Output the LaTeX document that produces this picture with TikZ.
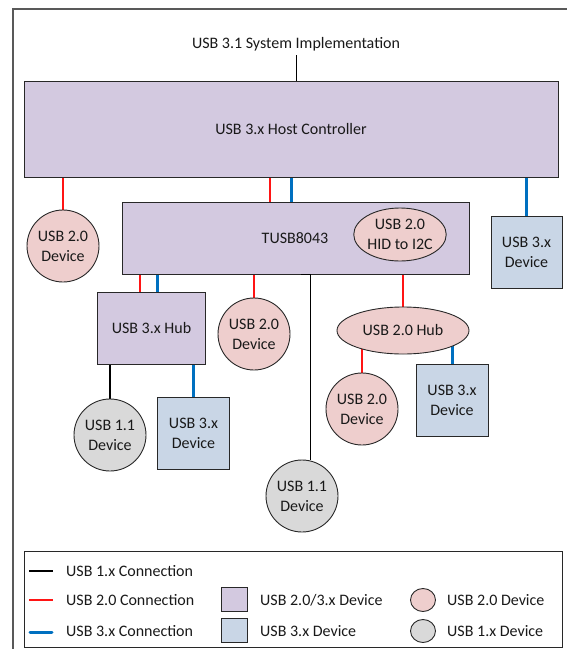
\documentclass[tikz,border=0pt]{standalone}
\usepackage{fontspec}
\setmainfont{Carlito}
\usetikzlibrary{shapes.geometric,backgrounds,calc}
\definecolor{purp}{RGB}{211,201,224}
\definecolor{pinkc}{RGB}{238,206,205}
\definecolor{bluebox}{RGB}{201,214,230}
\definecolor{grayc}{RGB}{217,217,217}
\definecolor{usbblue}{RGB}{0,112,192}
\definecolor{usbred}{RGB}{255,20,20}
\definecolor{edge}{RGB}{40,40,40}
\tikzset{
  every node/.style={font=\fontsize{16}{20}\selectfont, text=black!90, align=center, inner sep=0pt},
  purpbox/.style={draw=edge, line width=0.9pt, fill=purp, rectangle},
  bluedev/.style={draw=edge, line width=0.9pt, fill=bluebox, rectangle, minimum width=72pt, minimum height=72pt},
  pinkdev/.style={draw=edge, line width=0.9pt, fill=pinkc, circle, minimum size=72pt},
  graydev/.style={draw=edge, line width=0.9pt, fill=grayc, circle, minimum size=72pt},
  pinkell/.style={draw=edge, line width=0.9pt, fill=pinkc, ellipse},
  usbone/.style={draw=black, line width=1.3pt},
  usbtwo/.style={draw=usbred, line width=1.2pt},
  usbthree/.style={draw=usbblue, line width=3pt},
  frameline/.style={draw=black!65, line width=1.2pt},
}
\begin{document}
\begin{tikzpicture}[x=1pt,y=-1pt]
\useasboundingbox (0,0) rectangle (567,649);
% outer frame (cropped at right and bottom)
\draw[frameline] (13,649) -- (13,9) -- (567,9);

% title
\node (title) at (296,44) {USB 3.1 System Implementation};

% main nodes
\node[purpbox, minimum width=534pt, minimum height=96pt] (host) at (291,129) {USB 3.x Host Controller};
\node[purpbox, minimum width=347pt, minimum height=72pt] (tusb) at (295.5,238) {};
\node at (295,238) {TUSB8043};
\node[pinkell, minimum width=86pt, minimum height=53pt] (hid) at (400,234.5) {USB 2.0\\HID to I2C};
\node[pinkdev] (c20a) at (63,246) {USB 2.0\\Device};
\node[bluedev, minimum width=71pt] (dev3a) at (526.5,252) {USB 3.x\\Device};
\node[purpbox, minimum width=108pt, minimum height=72pt] (hub3) at (151.5,328) {USB 3.x Hub};
\node[pinkdev] (c20b) at (254,334) {USB 2.0\\Device};
\node[pinkell, minimum width=132pt, minimum height=47pt] (hub2) at (403,330.5) {USB 2.0 Hub};
\node[pinkdev] (c20c) at (362,409) {USB 2.0\\Device};
\node[bluedev] (dev3b) at (452,400) {USB 3.x\\Device};
\node[graydev] (c11a) at (110,435) {USB 1.1\\Device};
\node[bluedev] (dev3c) at (193.5,433) {USB 3.x\\Device};
\node[graydev] (c11b) at (302,496) {USB 1.1\\Device};

% connectors (behind the nodes)
\begin{scope}[on background layer]
  \draw[black, line width=0.9pt] (title.south) ++(0,4) -- (title.south |- host.north);
  \draw[usbtwo] (c20a.center) -- (c20a.center |- host.center);
  \draw[usbtwo] ([xshift=-25.5pt]tusb.center) -- ([xshift=-25.5pt]tusb.center |- host.center);
  \draw[usbthree] ([xshift=-4pt]tusb.center) -- ([xshift=-4pt]tusb.center |- host.center);
  \draw[usbthree] (dev3a.center) -- (dev3a.center |- host.center);
  \draw[usbtwo] ([xshift=-11.5pt]hub3.center) -- ([xshift=-11.5pt]hub3.center |- tusb.center);
  \draw[usbthree] ([xshift=5.5pt]hub3.center) -- ([xshift=5.5pt]hub3.center |- tusb.center);
  \draw[usbtwo] (c20b.center) -- (c20b.center |- tusb.center);
  \draw[usbtwo] (hub2.center) -- (hub2.center |- tusb.center);
  \draw[usbtwo] (c20c.center) -- (c20c.center |- hub2.center);
  \draw[usbthree] (dev3b.center) -- (dev3b.center |- hub2.center);
  \draw[usbone] (c11a.center) -- (c11a.center |- hub3.center);
  \draw[usbthree] (dev3c.center) -- (dev3c.center |- hub3.center);
\end{scope}
\draw[usbone] ([xshift=-1pt]c11b.north |- tusb.south) -- (c11b.77 |- tusb.south) -- (c11b.77);

% legend
\node[draw=edge, line width=0.9pt, rectangle, minimum width=538pt, minimum height=96pt] (legend) at (293,599) {};
\draw[usbone] (29,571) -- (53,571);
\draw[usbtwo] (29,600) -- (53,600);
\draw[usbthree, line cap=round] (30,632) -- (52,632);
\node[anchor=west] (l1) at (66,571) {USB 1.x Connection};
\node[anchor=west] (l2) at (66,600) {USB 2.0 Connection};
\node[anchor=west] (l3) at (66,631) {USB 3.x Connection};
\node[purpbox, minimum width=26pt, minimum height=24pt] (sq1) at (234.5,599.5) {};
\node[purpbox, fill=bluebox, minimum width=26pt, minimum height=24pt] (sq2) at (234.5,630.5) {};
\node[anchor=west] (l4) at (260,600) {USB 2.0/3.x Device};
\node[anchor=west] (l5) at (260,631) {USB 3.x Device};
\node[pinkell, minimum width=25pt, minimum height=23pt] (ci1) at (423,600) {};
\node[pinkell, fill=grayc, minimum width=25pt, minimum height=23pt] (ci2) at (423,631) {};
\node[anchor=west] (l6) at (447,600) {USB 2.0 Device};
\node[anchor=west] (l7) at (447,631) {USB 1.x Device};
\end{tikzpicture}
\end{document}
